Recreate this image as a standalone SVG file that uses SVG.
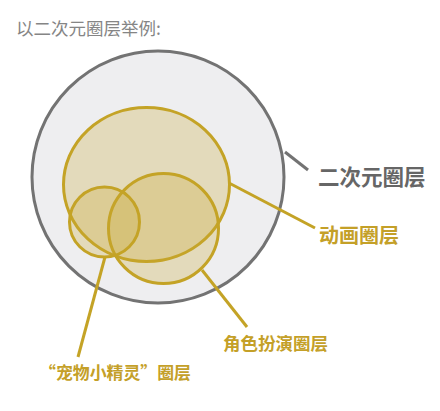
<svg xmlns="http://www.w3.org/2000/svg" width="440" height="411" viewBox="0 0 440 411">
<style>
.cjk{font-family:"Noto Sans CJK SC","Noto Sans",sans-serif}
.gold{fill:#c4a028;font-weight:bold}
.set{fill:#c8a832;fill-opacity:0.28;stroke:#c4a326;stroke-width:3}
.lg{stroke:#c4a326;stroke-width:3;fill:none}
</style>
<rect width="440" height="411" fill="#ffffff"/>
<text x="16" y="35" class="cjk" font-size="17.5" fill="#858585">以二次元圈层举例:</text>
<g id="outer">
<circle cx="158" cy="177" r="126" fill="#eeeef0" stroke="#737373" stroke-width="3"/>
</g>
<g id="connectors">
<line x1="285" y1="152" x2="308" y2="170" stroke="#737373" stroke-width="3"/>
<line class="lg" x1="229" y1="183" x2="315" y2="228"/>
<line class="lg" x1="105" y1="257" x2="78" y2="357"/>
<line class="lg" x1="202" y1="270" x2="247" y2="327"/>
</g>
<g id="anime">
<ellipse class="set" cx="146.5" cy="184.5" rx="83" ry="77"/>
</g>
<g id="roleplay">
<circle class="set" cx="163.5" cy="228.5" r="55"/>
</g>
<g id="pokemon">
<ellipse class="set" cx="104.5" cy="222" rx="35" ry="35"/>
</g>
<g id="labels">
<text x="318" y="185" class="cjk" font-size="21.5" font-weight="bold" fill="#666666">二次元圈层</text>
<text x="319" y="243" class="cjk gold" font-size="20">动画圈层</text>
<text x="223" y="350" class="cjk gold" font-size="17.5">角色扮演圈层</text>
<text x="39" y="379" class="cjk gold" font-size="16.9">“宠物小精灵”圈层</text>
</g>
</svg>
